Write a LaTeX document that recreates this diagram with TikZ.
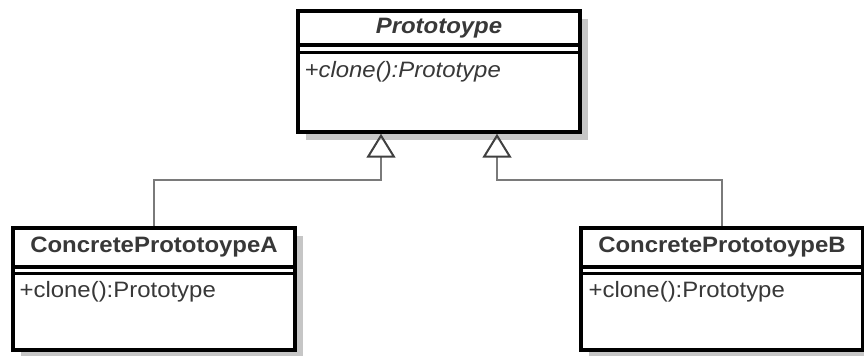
\documentclass[tikz,border=0pt]{standalone}
\usepackage{graphicx}
\usepackage{fontspec}
\setmainfont{Liberation Sans}
\usetikzlibrary{arrows.meta,shadows}

\definecolor{umltext}{HTML}{383838}
\definecolor{umlline}{HTML}{7A7A7A}
\definecolor{umlshadow}{HTML}{C6C6C6}

% labels in the source image are a little stretched sideways
\newcommand{\wide}[1]{\scalebox{1.075}[1]{#1}}

\tikzset{
  classbox/.style={draw, line width=2.6pt, fill=white, inner sep=0pt, minimum width=211.5pt,
    drop shadow={shadow xshift=6pt, shadow yshift=-6pt, fill=umlshadow, opacity=1}},
  sepline/.style={line width=2.6pt},
  nametext/.style={font=\fontsize{16.7}{19}\selectfont\bfseries, text=umltext, inner sep=1pt},
  optext/.style={font=\fontsize{16.7}{19}\selectfont, text=umltext, inner sep=1pt, anchor=west},
  inherit/.style={draw=umlline, line width=1.5pt, -{Triangle[open, length=18pt, width=21.75pt, color=black!75]}},
}

\begin{document}
\begin{tikzpicture}[x=0.75pt, y=-0.75pt]
\useasboundingbox (0,0) rectangle (864,355);

% abstract prototype
\node[classbox, minimum height=90.75pt] (proto) at (439,71.5) {};
\draw[sepline] (proto.west |- 0,45) -- (proto.east |- 0,45);
\draw[sepline] (proto.west |- 0,52.5) -- (proto.east |- 0,52.5);
\node[nametext, font=\fontsize{16.7}{19}\selectfont\bfseries\itshape] (protoname) at (439,28) {\wide{Prototoype}};
\node[optext, font=\fontsize{16.7}{19}\selectfont\itshape] (protoop) at (303,72) {\wide{+clone():Prototype}};

% concrete A
\node[classbox, minimum height=91.5pt] (cpa) at (154,289) {};
\draw[sepline] (cpa.west |- 0,267) -- (cpa.east |- 0,267);
\draw[sepline] (cpa.west |- 0,273.5) -- (cpa.east |- 0,273.5);
\node[nametext] (cpaname) at (154,247) {\wide{ConcretePrototoypeA}};
\node[optext] (cpaop) at (18,292) {\wide{+clone():Prototype}};

% concrete B
\node[classbox, minimum height=91.5pt] (cpb) at (722,289) {};
\draw[sepline] (cpb.west |- 0,267) -- (cpb.east |- 0,267);
\draw[sepline] (cpb.west |- 0,273.5) -- (cpb.east |- 0,273.5);
\node[nametext] (cpbname) at (722,247) {\wide{ConcretePrototoypeB}};
\node[optext] (cpbop) at (587,292) {\wide{+clone():Prototype}};

% generalisation
\draw[inherit] (cpa.north) -- ++(0,-46) -| ([xshift=-43.5pt]proto.south);
\draw[inherit] (cpb.north) -- ++(0,-46) -| ([xshift=43.5pt]proto.south);

\end{tikzpicture}
\end{document}
